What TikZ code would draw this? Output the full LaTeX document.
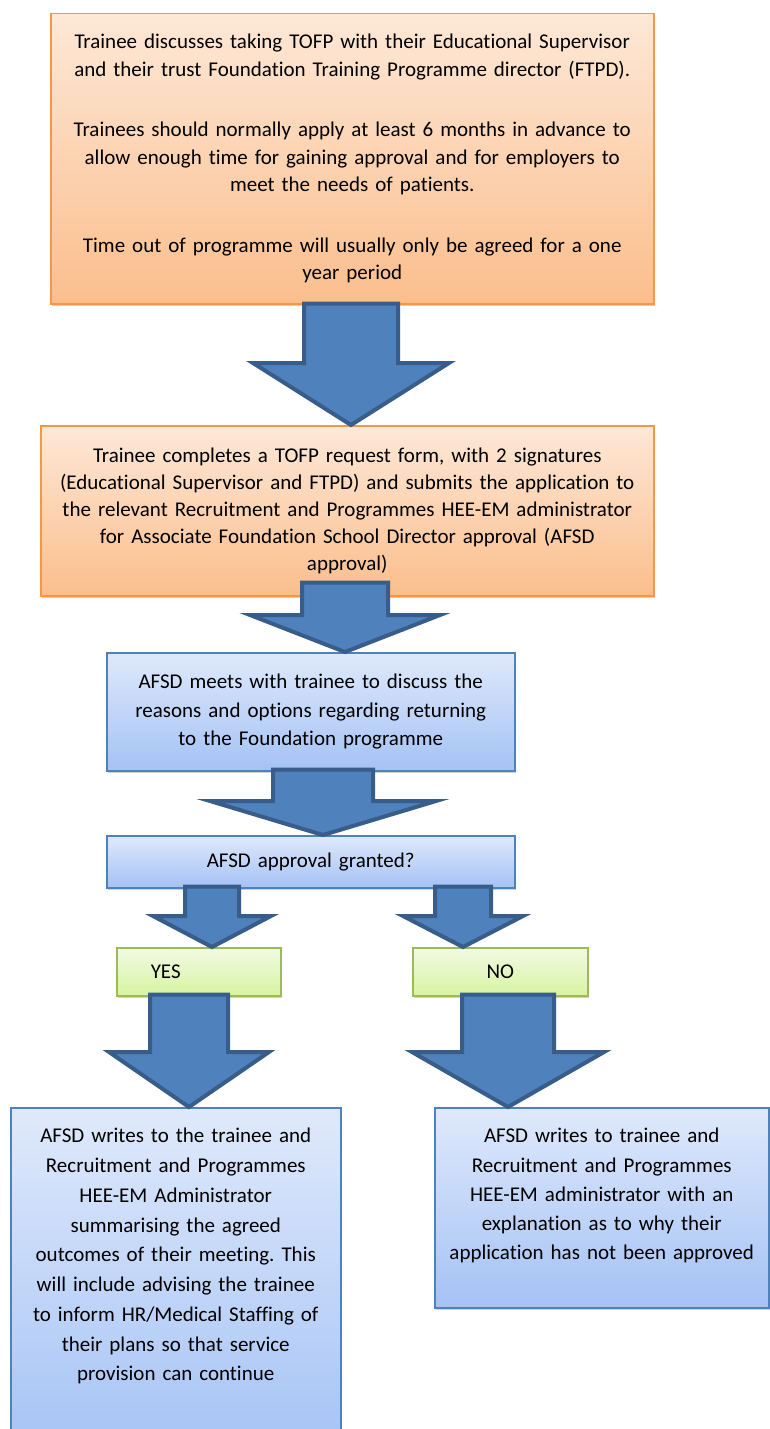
\documentclass[tikz,border=0pt]{standalone}
\usepackage{fontspec}
\setmainfont{Carlito}[Ligatures=NoCommon]
\usetikzlibrary{calc,shadows}
\frenchspacing

\definecolor{peachtop}{RGB}{253,232,215}
\definecolor{peachbot}{RGB}{251,190,140}
\definecolor{peachline}{RGB}{247,150,70}
\definecolor{bluetop}{RGB}{223,233,251}
\definecolor{bluebot}{RGB}{164,194,245}
\definecolor{blueline}{RGB}{79,129,189}
\definecolor{greentop}{RGB}{242,249,228}
\definecolor{greenbot}{RGB}{215,244,160}
\definecolor{greenline}{RGB}{155,187,89}
\definecolor{arrowfill}{RGB}{79,129,189}
\definecolor{arrowline}{RGB}{56,93,138}

\tikzset{
  box/.style={rectangle, anchor=north west, inner xsep=4pt, inner ysep=0pt,
    align=center, line width=1.5pt, font=\fontsize{21}{29}\selectfont,
    drop shadow={shadow xshift=1.5pt, shadow yshift=-2.5pt, opacity=0.3, fill=black!60}},
  orangebox/.style={box, draw=peachline, top color=peachtop, bottom color=peachbot},
  bluebox/.style={box, draw=blueline, top color=bluetop, bottom color=bluebot},
  greenbox/.style={box, draw=greenline, top color=greentop, bottom color=greenbot},
  fatarrow/.style={draw=arrowline, fill=arrowfill, line width=4pt, line join=miter}
}

% from, to, centre x, shaft top above from, wing y, shaft half, head half
\newcommand{\blockarrow}[7]{%
  \draw[fatarrow] let \p1=(#1.south), \p2=(#2.north) in
    (#3pt-#6pt,\y1+#4pt) -- (#3pt+#6pt,\y1+#4pt) -- (#3pt+#6pt,#5pt) -- (#3pt+#7pt,#5pt)
    -- (#3pt,\y2) -- (#3pt-#7pt,#5pt) -- (#3pt-#6pt,#5pt) -- cycle;}

\begin{document}
\begin{tikzpicture}[x=1pt,y=1pt]
    \useasboundingbox (0,0) rectangle (770,-1429);
    \clip (0,0) rectangle (770,-1429);

    \node[orangebox, text width=595pt, minimum height=290pt, font=\fontsize{21}{27.5}\selectfont] (tofp) at (50,-13)
        {Trainee discusses taking TOFP with their Educational Supervisor\\
         and their trust Foundation Training Programme director (FTPD).\\[33pt]
         Trainees should normally apply at least 6 months in advance to\\
         allow enough time for gaining approval and for employers to\\
         meet the needs of patients.\\[33pt]
         Time out of programme will usually only be agreed for a one\\
         year period};
    \node[orangebox, text width=605pt, minimum height=170pt, font=\fontsize{21}{27}\selectfont] (form) at (40,-425)
        {Trainee completes a TOFP request form, with 2 signatures\\
         (Educational Supervisor and FTPD) and submits the application to\\
         the relevant Recruitment and Programmes HEE-EM administrator\\
         for Associate Foundation School Director approval (AFSD\\
         approval)};
    \node[bluebox, text width=400pt, minimum height=118pt, font=\fontsize{21}{28.5}\selectfont] (meet) at (106,-652)
        {AFSD meets with trainee to discuss the\\
         reasons and options regarding returning\\
         to the Foundation programme};
    \node[bluebox, text width=400pt, minimum height=52pt] (granted) at (106,-835) {AFSD approval granted?};

    \node[greenbox, inner xsep=34pt, text width=96pt, minimum height=48pt, align=left] (yes) at (116,-947) {YES};
    \node[greenbox, text width=167pt, minimum height=48pt] (no) at (412,-947) {NO};

    \node[bluebox, text width=322pt, inner ysep=20pt, text height=15pt, text depth=300pt,
          font=\fontsize{21}{29.75}\selectfont] (yesres) at (10,-1107)
        {AFSD writes to the trainee and\\
         Recruitment and Programmes\\
         HEE-EM Administrator\\
         summarising the agreed\\
         outcomes of their meeting. This\\
         will include advising the trainee\\
         to inform HR/Medical Staffing of\\
         their plans so that service\\
         provision can continue};
    \node[bluebox, text width=326pt, inner ysep=20pt, text height=15pt, text depth=145pt,
          font=\fontsize{21}{29.25}\selectfont] (nores) at (434,-1107)
        {AFSD writes to trainee and\\
         Recruitment and Programmes\\
         HEE-EM administrator with an\\
         explanation as to why their\\
         application has not been approved};

    \blockarrow{tofp}{form}{351}{1}{-363}{47}{98}
    \blockarrow{form}{meet}{345}{14}{-615}{43}{95}
    \blockarrow{meet}{granted}{323}{2}{-801}{50}{113}
    \blockarrow{granted}{yes}{212}{2}{-916}{27}{59}
    \blockarrow{granted}{no}{463}{2}{-916}{28}{60}
    \blockarrow{yes}{yesres}{189}{2}{-1052}{39}{80}
    \blockarrow{no}{nores}{508}{2}{-1052}{46}{96}
\end{tikzpicture}
\end{document}
